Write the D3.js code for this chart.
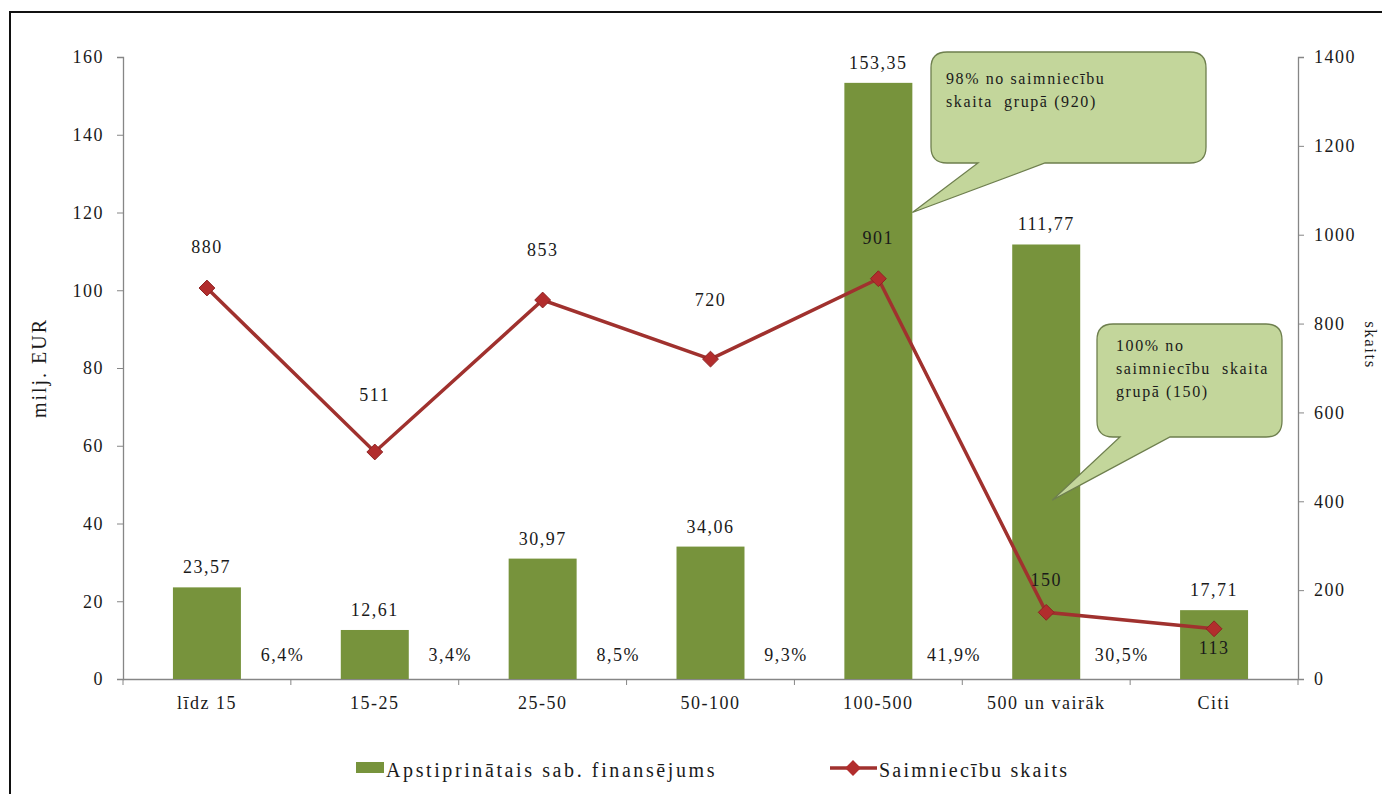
<!DOCTYPE html>
<html><head><meta charset="utf-8">
<script src="https://cdn.jsdelivr.net/npm/d3@7"></script>
<style>
html,body{margin:0;padding:0;background:#fff;overflow:hidden}
svg{display:block}
svg text{font-family:"Liberation Serif","Times New Roman",serif !important;}
</style></head>
<body>
<svg id="c" width="1382" height="794"></svg>
<script>
const categories = ["līdz 15","15-25","25-50","50-100","100-500","500 un vairāk","Citi"];
const funding = [23.57,12.61,30.97,34.06,153.35,111.77,17.71];
const fundingLabels = ["23,57","12,61","30,97","34,06","153,35","111,77","17,71"];
const farms = [880,511,853,720,901,150,113];
const shareLabels = ["6,4%","3,4%","8,5%","9,3%","41,9%","30,5%",""];
const leftTicks = [0,20,40,60,80,100,120,140,160];
const rightTicks = [0,200,400,600,800,1000,1200,1400];
const seriesNames = ["Apstiprinātais sab. finansējums","Saimniecību skaits"];
const leftTitle = "milj. EUR";
const rightTitle = "skaits";
const callout1 = ["98% no saimniecību","skaita  grupā (920)"];
const callout2 = ["100% no","saimniecību  skaita","grupā (150)"];

// layout (not data)
const lineLabelDy = [-41,-57,-50,-59,-41,-32,19];

const svg = d3.select("#c");
const W=1382,H=794;
const L=123,R=1298,T=57,B=679;
const green="#77933C", red="#A0312E", axisCol="#868686", txt="#1a1a1a";
const FS="18px", LS="1.5px";

// outer border
svg.append("rect").attr("x",10).attr("y",12).attr("width",W).attr("height",H).attr("fill","none").attr("stroke","#111").attr("stroke-width",2);

const x = d3.scaleBand().domain(categories).range([L,R]).paddingInner(0.595).paddingOuter(0.2975);
const step = x.step();
const cx = c => x(c)+x.bandwidth()/2;
const yL = d3.scaleLinear().domain([0,160]).range([B,T]);
const yR = d3.scaleLinear().domain([0,1400]).range([B,T]);

// axes
const gL = svg.append("g").attr("transform",`translate(${L},0)`)
  .call(d3.axisLeft(yL).tickValues(leftTicks).tickFormat(d3.format("d")).tickSize(6).tickPadding(13));
const gR = svg.append("g").attr("transform",`translate(${R},0)`)
  .call(d3.axisRight(yR).tickValues(rightTicks).tickFormat(d3.format("d")).tickSize(6).tickPadding(10));
const gX = svg.append("g").attr("transform",`translate(0,${B})`)
  .call(d3.axisBottom(x).tickSize(0).tickPadding(17));
[gL,gR,gX].forEach(g=>{
  g.selectAll("path.domain").attr("stroke",axisCol).attr("stroke-width",1.3);
  g.selectAll(".tick line").attr("stroke",axisCol);
  g.selectAll("text").attr("fill",txt).style("font-size",FS).style("letter-spacing",LS);
});
gX.select("path.domain").attr("d",`M${L},0.5H${R}`);
// x boundary ticks
svg.append("g").selectAll("line").data(d3.range(categories.length+1)).join("line")
  .attr("x1",i=>L+i*step).attr("x2",i=>L+i*step).attr("y1",B).attr("y2",B+6)
  .attr("stroke",axisCol).attr("stroke-width",1);

// titles
svg.append("text").attr("transform",`translate(46,${368}) rotate(-90)`).attr("text-anchor","middle")
  .style("font-size","20px").style("letter-spacing","2px").attr("fill",txt).text(leftTitle);
svg.append("text").attr("transform",`translate(1365,${345}) rotate(90)`).attr("text-anchor","middle")
  .style("font-size","17px").style("letter-spacing","1.5px").attr("fill",txt).text(rightTitle);

// bars
svg.append("g").selectAll("rect").data(funding).join("rect")
  .attr("x",(d,i)=>x(categories[i])).attr("width",x.bandwidth())
  .attr("y",d=>yL(d)).attr("height",d=>B-yL(d)).attr("fill",green);

// bar labels
svg.append("g").selectAll("text").data(funding).join("text")
  .attr("x",(d,i)=>cx(categories[i])).attr("y",d=>yL(d)-14)
  .attr("text-anchor","middle").style("font-size",FS).style("letter-spacing",LS).attr("fill",txt)
  .text((d,i)=>fundingLabels[i]);

// share labels
svg.append("g").selectAll("text").data(shareLabels).join("text")
  .attr("x",(d,i)=>cx(categories[i])+step*0.45).attr("y",B-18)
  .attr("text-anchor","middle").style("font-size",FS).style("letter-spacing",LS).attr("fill",txt)
  .text(d=>d);

// callouts
function callout(x0,y0,w,h,tipX,tipY,b1,b2,lines,tx,ty,lh){
  const r=16;
  const p=d3.path();
  p.moveTo(x0+r,y0);
  p.lineTo(x0+w-r,y0); p.quadraticCurveTo(x0+w,y0,x0+w,y0+r);
  p.lineTo(x0+w,y0+h-r); p.quadraticCurveTo(x0+w,y0+h,x0+w-r,y0+h);
  p.lineTo(b2,y0+h); p.lineTo(tipX,tipY); p.lineTo(b1,y0+h);
  p.lineTo(x0+r,y0+h); p.quadraticCurveTo(x0,y0+h,x0,y0+h-r);
  p.lineTo(x0,y0+r); p.quadraticCurveTo(x0,y0,x0+r,y0);
  p.closePath();
  svg.append("path").attr("d",p.toString()).attr("fill","#C3D69B").attr("stroke","#6E7F4E").attr("stroke-width",1.3);
  const t=svg.append("text").style("font-size","16px").style("letter-spacing","1.6px").attr("fill",txt);
  lines.forEach((s,i)=>t.append("tspan").attr("x",tx).attr("y",ty+i*lh).style("white-space","pre").text(s));
}
const b5 = categories[4], b6 = categories[5];
callout(931,52,275,111, x(b5)+x.bandwidth(), yL(120), 978,1045, callout1, 946,84,23);
callout(1097,324,185,113, cx(b6)+6, yL(46), 1120,1170, callout2, 1116,351,23);

// line
const line = d3.line().x((d,i)=>cx(categories[i])).y(d=>yR(d));
svg.append("path").datum(farms).attr("d",line).attr("fill","none").attr("stroke",red).attr("stroke-width",3.5);
svg.append("g").selectAll("path").data(farms).join("path")
  .attr("transform",(d,i)=>`translate(${cx(categories[i])},${yR(d)})`)
  .attr("d",d3.symbol(d3.symbolDiamond2,160)()).attr("fill","#B22D2D").attr("stroke","#8E2424").attr("stroke-width",1);
svg.append("g").selectAll("text").data(farms).join("text")
  .attr("x",(d,i)=>cx(categories[i])).attr("y",(d,i)=>yR(d)+lineLabelDy[i]+6)
  .attr("text-anchor","middle").style("font-size",FS).style("letter-spacing",LS).attr("fill",txt).text(d=>d);

// legend
const lg = svg.append("g");
lg.append("rect").attr("x",356).attr("y",762).attr("width",28).attr("height",11).attr("fill",green);
lg.append("text").attr("x",386).attr("y",777).style("font-size","20px").style("letter-spacing","2.6px").attr("fill",txt).text(seriesNames[0]);
lg.append("line").attr("x1",830).attr("x2",877).attr("y1",768).attr("y2",768).attr("stroke",red).attr("stroke-width",3.5);
lg.append("path").attr("transform","translate(853,768)").attr("d",d3.symbol(d3.symbolDiamond2,160)()).attr("fill","#B22D2D");
lg.append("text").attr("x",879).attr("y",777).style("font-size","20px").style("letter-spacing","2.2px").attr("fill",txt).text(seriesNames[1]);
</script>
</body></html>
